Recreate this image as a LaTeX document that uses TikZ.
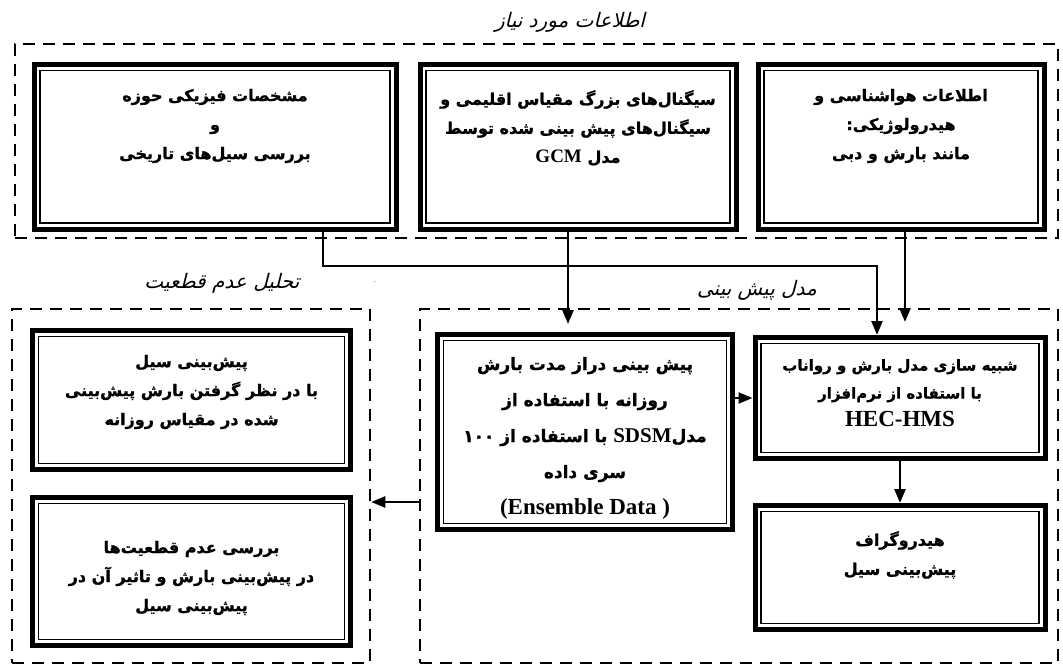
\documentclass[tikz,border=0pt]{standalone}
\usepackage{fontspec}
\usepackage{tikz}
\usetikzlibrary{arrows.meta,positioning}
\TeXXeTstate=1
\newfontfamily\fa[Script=Arabic,BoldFeatures={FakeBold=1.2}]{DejaVu Sans}
\newfontfamily\faslant[Script=Arabic,FakeSlant=0.25]{DejaVu Sans}
\newfontfamily\lat{Liberation Serif}
\newcommand{\rl}[1]{\beginR #1\endR}
\newcommand{\lr}[2][20]{{\lat\bfseries\fontsize{#1}{#1}\selectfont\beginL #2\endL}}

\tikzset{
  dblbox/.style={draw, line width=5pt, inner sep=0pt,
    path picture={\draw[line width=1.2pt]
      ([shift={(6pt,6pt)}]path picture bounding box.south west) rectangle
      ([shift={(-6pt,-6pt)}]path picture bounding box.north east);}},
  grp/.style={draw, line width=2.5pt, dash pattern=on 12pt off 8pt, inner sep=0pt},
  txt/.style={align=center, font=\fa\bfseries\fontsize{16}{29}\selectfont},
  big/.style={align=center, font=\fa\bfseries\fontsize{17}{36}\selectfont},
  ttl/.style={font=\faslant\fontsize{20}{22}\selectfont},
  arr/.style={line width=2.5pt, -{Triangle[length=14pt,width=11pt]}}
}

\begin{document}
\begin{tikzpicture}[x=1pt,y=-1pt]
        \fill[white] (0,0) rectangle (1063,669);
        \useasboundingbox (0,0) rectangle (1063,669);

        % dashed groups and their titles
        \node[grp, minimum width=1043pt, minimum height=194pt] (info) at (536.5,141) {};
        \node[grp, minimum width=358pt, minimum height=354pt] (unc) at (191,486) {};
        \node[grp, minimum width=638pt, minimum height=354pt] (pred) at (739,486) {};
        \node[ttl] (infoT) at (570,22) {\rl{اطلاعات مورد نیاز}};
        \node[ttl] (uncT) at (222,283) {\rl{تحلیل عدم قطعیت}};
        \node[ttl] (predT) at (757,290) {\rl{مدل پیش بینی}};
        \node[font=\small] (dot) at (375,282) {.};

        % input boxes
        \node[dblbox, minimum width=362pt, minimum height=164.5pt] (phys) at (215,146.75) {};
        \node[dblbox, minimum width=316pt, minimum height=164.5pt] (gcm) at (578,146.75) {};
        \node[dblbox, minimum width=286pt, minimum height=164.5pt] (met) at (901,146.75) {};
        \node[txt] (physT) at (215,126) {\rl{مشخصات فیزیکی حوزه}\\\rl{و}\\\rl{بررسی سیل^^^^200cهای تاریخی}};
        \node[txt] (gcmT) at (578,128) {\rl{سیگنال^^^^200cهای بزرگ مقیاس اقلیمی و}\\\rl{سیگنال^^^^200cهای پیش بینی شده توسط}\\\rl{مدل \lr[19]{GCM}}};
        \node[txt] (metT) at (901,126) {\rl{اطلاعات هواشناسی و}\\\rl{هیدرولوژیکی:}\\\rl{مانند بارش و دبی}};

        % model boxes
        \node[dblbox, minimum width=295pt, minimum height=195pt] (sdsm) at (585,432) {};
        \node[dblbox, minimum width=290pt, minimum height=121pt] (hec) at (900,398) {};
        \node[dblbox, minimum width=290pt, minimum height=124pt] (hydro) at (900,567.5) {};
        \node[big] (sdsmT) at (585,438) {\rl{پیش بینی دراز مدت بارش}\\\rl{روزانه با استفاده از}\\\rl{مدل\lr[21]{SDSM} با استفاده از \beginL ۱۰۰\endL}\\\rl{سری داده}\\\lr[23]{(Ensemble Data )}};
        \node[txt, font=\fa\bfseries\fontsize{15}{28}\selectfont] (hecT) at (900,393) {\rl{شبیه سازی مدل بارش و رواناب}\\\rl{با استفاده از نرم^^^^200cافزار}\\\lr[23]{HEC-HMS}};
        \node[txt] (hydroT) at (900,555) {\rl{هیدروگراف}\\\rl{پیش^^^^200cبینی سیل}};

        % uncertainty boxes
        \node[dblbox, minimum width=318pt, minimum height=139pt] (fcst) at (191.5,400) {};
        \node[dblbox, minimum width=318pt, minimum height=148pt] (rev) at (191.5,571.5) {};
        \node[txt] (fcstT) at (191.5,392) {\rl{پیش^^^^200cبینی سیل}\\\rl{با در نظر گرفتن بارش پیش^^^^200cبینی}\\\rl{شده در مقیاس روزانه}};
        \node[txt] (revT) at (191.5,578) {\rl{بررسی عدم قطعیت^^^^200cها}\\\rl{در پیش^^^^200cبینی بارش و تاثیر آن در}\\\rl{پیش^^^^200cبینی سیل}};

        % connectors
        \coordinate (bend) at (877,266);
        \coordinate (metEnd) at (905,322);
        \draw[arr] ([xshift=108pt]phys.south) |- (bend) -- ([xshift=-23pt]hec.north);
        \draw[arr, shorten >=8pt] ([xshift=-10pt]gcm.south) -- ([xshift=-17pt]sdsm.north);
        \draw[arr] ([xshift=4pt]met.south) -- (metEnd);
        \draw[arr] (sdsm.east |- hec.west) -- (hec.west);
        \draw[arr] (hec.south) -- (hydro.north);
        \draw[arr] ([yshift=-16pt]pred.west) -- ([yshift=-16pt]unc.east);
    \end{tikzpicture}
\end{document}
